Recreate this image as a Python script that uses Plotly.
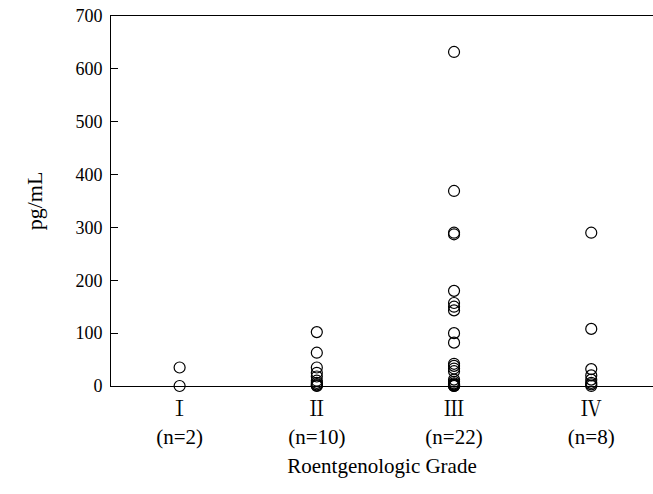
import plotly.graph_objects as go

categories = ["Ⅰ<br>(n=2)", "Ⅱ<br>(n=10)", "Ⅲ<br>(n=22)", "Ⅳ<br>(n=8)"]
grade1 = [35, 0]
grade2 = [102, 63, 35, 25, 18, 10, 6, 3, 1, 0]
grade3 = [632, 369, 290, 287, 180, 157, 150, 143, 100, 82, 42, 38, 33, 28, 12, 8, 5, 3, 2, 1, 0, 0]
grade4 = [290, 108, 32, 20, 12, 6, 3, 0]
y_ticks = [0, 100, 200, 300, 400, 500, 600, 700]

groups = [grade1, grade2, grade3, grade4]
fig = go.Figure()
for i, vals in enumerate(groups):
    fig.add_trace(go.Scatter(
        x=[i + 1] * len(vals), y=vals, mode="markers",
        marker=dict(symbol="circle-open", size=11, color="black", line=dict(width=1.2, color="black")),
        showlegend=False, cliponaxis=False,
    ))

font_fam = "Liberation Serif, Times New Roman, Noto Serif CJK SC, Noto Sans CJK SC, serif"
fig.update_layout(
    width=653, height=494,
    margin=dict(l=111, r=0, t=16, b=108),
    paper_bgcolor="white", plot_bgcolor="white",
    font=dict(family=font_fam, size=18, color="black"),
    xaxis=dict(
        range=[0.5, 4.45], tickmode="array", tickvals=[1, 2, 3, 4], ticktext=categories,
        showline=True, linecolor="black", linewidth=1, mirror=True,
        showgrid=False, zeroline=False, ticks="", automargin=False,
        tickfont=dict(size=21), ticklabelstandoff=4,
        title=dict(text="Roentgenologic Grade", standoff=10, font=dict(size=21)),
    ),
    yaxis=dict(
        range=[0, 700], tickmode="array", tickvals=y_ticks, ticktext=[str(v) for v in y_ticks],
        showline=True, linecolor="black", linewidth=1,
        showgrid=False, zeroline=False, ticks="inside", ticklen=7, tickcolor="black",
        automargin=False, tickfont=dict(size=18), ticklabelstandoff=4,
        ticklabeloverflow="allow",
        title=dict(text="pg/mL", standoff=26, font=dict(size=22)),
    ),
)
fig.write_html(
    "out.html",
    config={"displayModeBar": False},
    post_script="document.body.style.margin='0';document.body.style.padding='0';",
)
